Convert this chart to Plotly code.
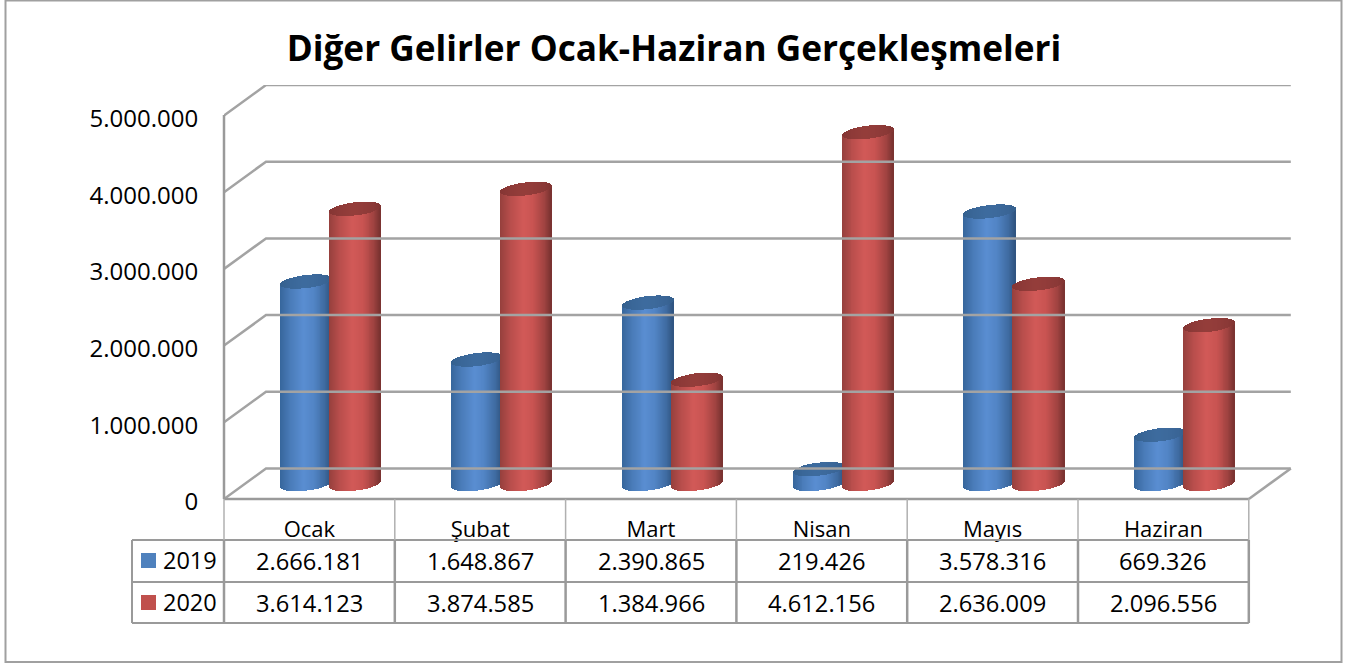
import numpy as np
import plotly.graph_objects as go

# ── Data ─────────────────────────────────────────────────────────────────────
MONTHS = ["Ocak", "Şubat", "Mart", "Nisan", "Mayıs", "Haziran"]
VALUES_2019 = [2666181, 1648867, 2390865, 219426, 3578316, 669326]
VALUES_2020 = [3614123, 3874585, 1384966, 4612156, 2636009, 2096556]
TICK_VALUES = [0, 1000000, 2000000, 3000000, 4000000, 5000000]
TITLE = "Diğer Gelirler Ocak-Haziran Gerçekleşmeleri"

# ── Layout constants (pixels) ────────────────────────────────────────────────
W, H = 1352, 663
PLOT_L, PLOT_R, PLOT_T, PLOT_B = 224, 1292, 85, 505
ZERO_Y = 499                # pixel row of value 0 on the front plane
LABEL_DROP = 3              # tick labels sit a little under their gridline
PX_PER_CAT = 170.8
PX_PER_VAL = 76.7 / 1e6
DEPTH_X, DEPTH_Y = 42, 30.5
FONT = "Open Sans"
TEXT = "#000000"
LINE = "#9a9a9a"

# cylinder geometry
RX, RY, TILT = 25.5, 6.5, 3.0
BASE_PX, TOP_BASE_PX = 15, 13
CENTER_SHIFT = 19
N_STRIPS = 52

STOPS_T = [-1, -0.6, -0.1, 0.3, 0.75, 1]
BLUE_BODY = ["#37669c", "#4a7cb9", "#5a8ed2", "#5285c6", "#3f6ba1", "#2f5480"]
RED_BODY = ["#96403d", "#b84e4c", "#d25a58", "#c95452", "#a04341", "#783230"]
BLUE_CAP = ["#35618f", "#3a6798", "#3e6c9f", "#3d6a9c", "#3a6596", "#35608d"]
RED_CAP = ["#853634", "#8e3a38", "#953e3b", "#923c3a", "#8b3937", "#823533"]


def shade(stops, t):
    rgb = [[int(s[i:i + 2], 16) for i in (1, 3, 5)] for s in stops]
    ch = [np.interp(t, STOPS_T, [c[k] for c in rgb]) for k in range(3)]
    return [f"rgb({int(r)},{int(g)},{int(b)})" for r, g, b in zip(*ch)]


def px_x(px):
    return (px - PLOT_L) / (PLOT_R - PLOT_L)


def px_y(px):
    return (PLOT_B - px) / (PLOT_B - PLOT_T)


def dot_number(v):
    return f"{v:,}".replace(",", ".")


def cylinders(values, offset_cat, body, cap):
    """Body and top cap of one series, built from thin vertical bars."""
    t = (np.arange(N_STRIPS) + 0.5) / N_STRIPS * 2 - 1
    s = np.sqrt(1 - t ** 2)
    base_v = BASE_PX / PX_PER_VAL
    top_v = TOP_BASE_PX / PX_PER_VAL
    front = (RY * s - TILT * t) / PX_PER_VAL   # lower edge of an ellipse
    back = (RY * s + TILT * t) / PX_PER_VAL    # upper edge of an ellipse
    strip_w = 2 * RX / N_STRIPS / PX_PER_CAT * 1.25
    xs, bases, heights = [], [], []
    cap_b, cap_h = [], []
    for i, v in enumerate(values):
        cx = i + 0.5 + (CENTER_SHIFT + offset_cat) / PX_PER_CAT
        xs.append(cx + t * RX / PX_PER_CAT)
        bottom = base_v - front
        top = top_v + v - front
        bases.append(bottom)
        heights.append(top - bottom)
        cap_b.append(top)
        cap_h.append(top_v + v + back - top)
    x = np.concatenate(xs).tolist()
    colors = shade(body, t) * len(values)
    cap_colors = shade(cap, t) * len(values)
    return [
        go.Bar(x=x, y=np.concatenate(heights).tolist(), base=np.concatenate(bases).tolist(),
               width=strip_w, marker=dict(color=colors, line_width=0), hoverinfo="skip"),
        go.Bar(x=x, y=np.concatenate(cap_h).tolist(), base=np.concatenate(cap_b).tolist(),
               width=strip_w, marker=dict(color=cap_colors, line_width=0), hoverinfo="skip"),
    ]


fig = go.Figure()

# ── 3D frame: back wall gridlines, left wall diagonals, floor ────────────────
dx_cat = DEPTH_X / PX_PER_CAT
dy_val = DEPTH_Y / PX_PER_VAL
n_cat = len(MONTHS)
grid_x, grid_y = [], []
for tv in TICK_VALUES:
    grid_x += [0, dx_cat, n_cat + dx_cat, None]
    grid_y += [tv, tv + dy_val, tv + dy_val, None]
grid_x += [n_cat, n_cat + dx_cat, None]
grid_y += [0, dy_val, None]
fig.add_trace(go.Scatter(x=grid_x, y=grid_y, mode="lines", cliponaxis=False,
                         line=dict(color="#a3a3a3", width=2.5), hoverinfo="skip"))

# ── Cylinders ────────────────────────────────────────────────────────────────
for trace in cylinders(VALUES_2019, -22, BLUE_BODY, BLUE_CAP):
    fig.add_trace(trace)
for trace in cylinders(VALUES_2020, 27, RED_BODY, RED_CAP):
    fig.add_trace(trace)

# ── Data table ───────────────────────────────────────────────────────────────
ROW_TOP, ROW_1, ROW_2, ROW_3 = ZERO_Y, 540, 582, 623
TABLE_L = 132
shapes = []


def add_line(x0, y0, x1, y1, width=2, color=LINE):
    shapes.append(dict(type="line", xref="paper", yref="paper",
                       x0=px_x(x0), x1=px_x(x1), y0=px_y(y0), y1=px_y(y1),
                       line=dict(color=color, width=width)))


add_line(PLOT_L, 115, PLOT_L, ROW_TOP, width=2.5)
add_line(PLOT_L, ROW_TOP, PLOT_L + n_cat * PX_PER_CAT, ROW_TOP, width=2.5)
add_line(TABLE_L, ROW_1, PLOT_L + n_cat * PX_PER_CAT, ROW_1)
add_line(TABLE_L, ROW_2, PLOT_L + n_cat * PX_PER_CAT, ROW_2)
add_line(TABLE_L, ROW_3, PLOT_L + n_cat * PX_PER_CAT, ROW_3)
add_line(TABLE_L, ROW_1, TABLE_L, ROW_3)
for i in range(n_cat + 1):
    cell_x = PLOT_L + i * PX_PER_CAT
    add_line(cell_x, ROW_TOP, cell_x, ROW_1, width=1.5, color="#b0b0b0")
    add_line(cell_x, ROW_1, cell_x, ROW_3, width=2.5)

# legend keys
for top, color in ((553, "#4f81bd"), (595, "#c0504d")):
    shapes.append(dict(type="rect", xref="paper", yref="paper",
                       x0=px_x(141), x1=px_x(156), y0=px_y(top), y1=px_y(top + 15),
                       fillcolor=color, line_width=0))

# outer chart border
shapes.append(dict(type="rect", xref="paper", yref="paper",
                   x0=px_x(5.5), x1=px_x(1341.5), y0=px_y(0.5), y1=px_y(662),
                   line=dict(color="#a0a0a0", width=2)))

annotations = []
for label, y_mid in (("2019", 560), ("2020", 602)):
    annotations.append(dict(text=label, xref="paper", yref="paper",
                            x=px_x(189.5), y=px_y(y_mid), showarrow=False,
                            xanchor="center", yanchor="middle",
                            font=dict(family=FONT, size=23.5, color=TEXT)))
for row, y_mid in ((VALUES_2019, 561), (VALUES_2020, 603)):
    for i, v in enumerate(row):
        annotations.append(dict(text=dot_number(v), xref="x", yref="paper",
                                x=i + 0.5, y=px_y(y_mid), showarrow=False,
                                xanchor="center", yanchor="middle",
                                font=dict(family=FONT, size=23.7, color=TEXT)))

fig.update_layout(
    width=W, height=H,
    margin=dict(l=PLOT_L, r=W - PLOT_R, t=PLOT_T, b=H - PLOT_B, pad=0),
    paper_bgcolor="white", plot_bgcolor="white",
    showlegend=False, barmode="overlay", bargap=0,
    title=dict(text=TITLE, x=674 / W, xanchor="center", y=1 - 49 / H, yanchor="middle",
               font=dict(family=FONT, size=35.2, color=TEXT, weight="bold")),
    xaxis=dict(range=[0, (PLOT_R - PLOT_L) / PX_PER_CAT], showgrid=False, zeroline=False,
               showline=False, tickmode="array", tickvals=[i + 0.5 for i in range(n_cat)],
               ticktext=MONTHS, ticks="outside", ticklen=5, tickcolor="rgba(0,0,0,0)",
               tickfont=dict(family=FONT, size=22, color=TEXT)),
    yaxis=dict(range=[(ZERO_Y - PLOT_B) / PX_PER_VAL, (ZERO_Y - PLOT_T) / PX_PER_VAL],
               showgrid=False, zeroline=False, showline=False, tickmode="array",
               tickvals=[v - LABEL_DROP / PX_PER_VAL for v in TICK_VALUES],
               ticktext=[dot_number(v) for v in TICK_VALUES],
               ticks="outside", ticklen=20, tickcolor="rgba(0,0,0,0)",
               tickfont=dict(family=FONT, size=24, color=TEXT)),
    shapes=shapes,
    annotations=annotations,
)

# the page body has a default margin that would push the chart off its place
fig.write_html("out.html", config={"displayModeBar": False},
               post_script="document.body.style.margin='0';document.body.style.overflow='hidden';")
